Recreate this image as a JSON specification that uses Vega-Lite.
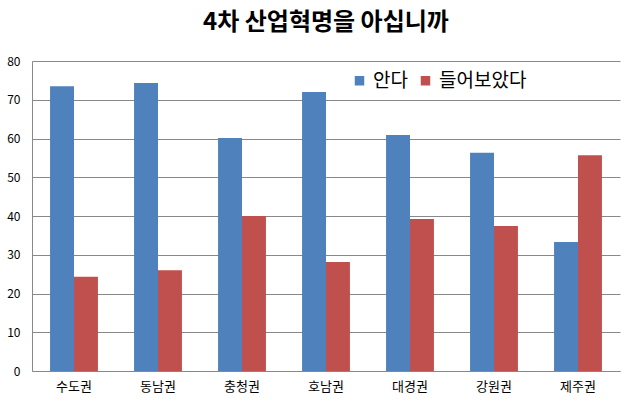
{
  "$schema": "https://vega.github.io/schema/vega-lite/v6.json",
  "width": 588,
  "height": 310,
  "autosize": {"type": "none"},
  "padding": {"left": 32, "top": 61, "right": 13, "bottom": 39},
  "background": "white",
  "title": {"text": "4차 산업혁명을 아십니까", "font": "Noto Sans CJK KR", "fontSize": 24, "fontWeight": "bold", "color": "#000000", "anchor": "middle", "offset": 20},
  "data": {
    "values": [
      {"region": "수도권", "series": "안다", "value": 73.5},
      {"region": "수도권", "series": "들어보았다", "value": 24.3},
      {"region": "동남권", "series": "안다", "value": 74.3},
      {"region": "동남권", "series": "들어보았다", "value": 26.0},
      {"region": "충청권", "series": "안다", "value": 60.1},
      {"region": "충청권", "series": "들어보았다", "value": 40.0},
      {"region": "호남권", "series": "안다", "value": 72.0},
      {"region": "호남권", "series": "들어보았다", "value": 28.1},
      {"region": "대경권", "series": "안다", "value": 60.9},
      {"region": "대경권", "series": "들어보았다", "value": 39.2},
      {"region": "강원권", "series": "안다", "value": 56.3},
      {"region": "강원권", "series": "들어보았다", "value": 37.4},
      {"region": "제주권", "series": "안다", "value": 33.3},
      {"region": "제주권", "series": "들어보았다", "value": 55.7}
    ]
  },
  "mark": {"type": "bar"},
  "encoding": {
    "x": {
      "field": "region", "type": "nominal", "sort": null,
      "scale": {"paddingInner": 0.43, "paddingOuter": 0.215},
      "axis": {"title": null, "labelAngle": 0, "ticks": false, "domainColor": "#888888", "labelFont": "Noto Sans CJK KR", "labelFontSize": 13, "labelColor": "#000000", "labelPadding": 9}
    },
    "xOffset": {"field": "series", "type": "nominal", "sort": ["안다", "들어보았다"]},
    "y": {
      "field": "value", "type": "quantitative",
      "scale": {"domain": [0, 80]},
      "axis": {"title": null, "values": [0, 10, 20, 30, 40, 50, 60, 70, 80], "ticks": false, "grid": true, "gridColor": "#888888", "gridWidth": 1, "domainColor": "#888888", "labelFont": "Noto Sans CJK KR", "labelFontSize": 12, "labelColor": "#000000", "labelPadding": 12}
    },
    "color": {
      "field": "series", "type": "nominal", "sort": ["안다", "들어보았다"],
      "scale": {"domain": ["안다", "들어보았다"], "range": ["#4F81BD", "#C0504D"]},
      "legend": {"title": null, "orient": "none", "legendX": 318, "legendY": 10, "direction": "horizontal", "symbolType": "square", "symbolSize": 90, "symbolStrokeWidth": 0, "labelFont": "Noto Sans CJK KR", "labelFontSize": 19, "labelColor": "#000000", "columnPadding": 8, "labelOffset": 4}
    }
  },
  "config": {"view": {"stroke": null}}
}
